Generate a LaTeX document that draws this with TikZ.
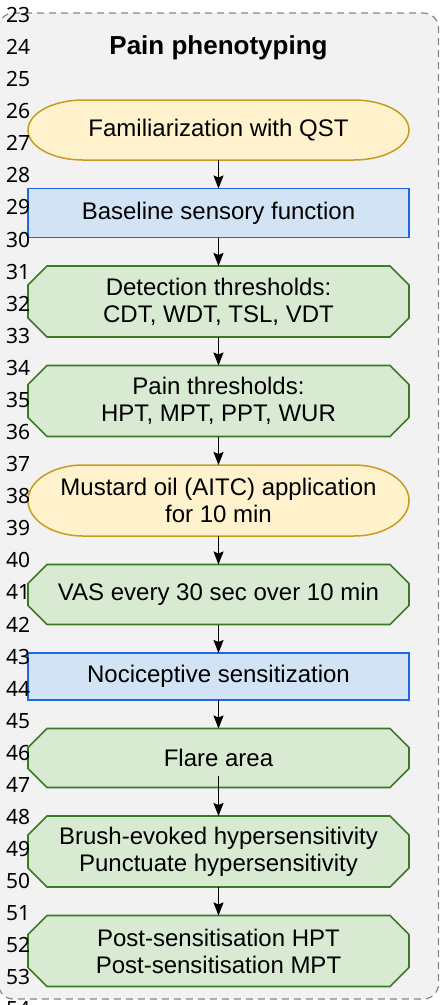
\documentclass[tikz,border=0pt]{standalone}
\usepackage{fontspec}
\setmainfont{Liberation Sans}
\newfontfamily\numfont{Noto Sans}
\usetikzlibrary{positioning,arrows.meta,backgrounds}

\definecolor{panelfill}{HTML}{F2F2F2}
\definecolor{panelline}{HTML}{858585}
\definecolor{yfill}{HTML}{FFF2CC}
\definecolor{yline}{HTML}{C99C1E}
\definecolor{bfill}{HTML}{D2E3F5}
\definecolor{bline}{HTML}{1F66E0}
\definecolor{gfill}{HTML}{D9EAD3}
\definecolor{gline}{HTML}{3B7A22}

\tikzset{
  box/.style={minimum width=381pt, outer sep=0pt, inner sep=0pt, align=center,
    font=\fontsize{24}{27}\selectfont},
  stadium/.style={box},
  chambox/.style={box},
  rectbox/.style={box, draw=bline, fill=bfill, line width=1.5pt},
  arr/.style={line width=1.6pt, -{Stealth[length=13pt,width=10pt,inset=2pt]}},
  panel/.style={rounded corners=15pt, fill=panelfill, draw=panelline,
    line width=1.2pt, dash pattern=on 7pt off 5pt},
  lineno/.style={anchor=west, inner sep=0pt, font=\numfont\fontsize{21}{21}\selectfont}
}

\begin{document}
\begin{tikzpicture}[node distance=28.5pt]
\useasboundingbox (0,0) rectangle (441pt,-1005pt);

\node[font=\bfseries\fontsize{26}{26}\selectfont] (title) at (218.5pt,-48pt) {Pain phenotyping};

% steps, top to bottom
\node[stadium, minimum height=60pt] (fam) at (218.5pt,-130pt) {Familiarization with QST};
\node[rectbox, minimum height=49pt, below=of fam] (base) {Baseline sensory function};
\node[chambox, minimum height=71pt, below=of base] (detect) {Detection thresholds:\\CDT, WDT, TSL, VDT};
\node[chambox, minimum height=71pt, below=of detect] (pain) {Pain thresholds:\\HPT, MPT, PPT, WUR};
\node[stadium, minimum height=71pt, below=of pain] (aitc) {Mustard oil (AITC) application\\for 10 min};
\node[chambox, minimum height=60pt, below=of aitc] (vas) {VAS every 30 sec over 10 min};
\node[rectbox, minimum height=47pt, below=of vas] (noci) {Nociceptive sensitization};
\node[chambox, minimum height=59pt, below=of noci] (flare) {Flare area};
\node[chambox, minimum height=71pt, below=of flare] (brush) {Brush-evoked hypersensitivity\\Punctuate hypersensitivity};
\node[chambox, minimum height=71pt, below=of brush] (post) {Post-sensitisation HPT\\Post-sensitisation MPT};

\foreach \a/\b in {fam/base,base/detect,detect/pain,pain/aitc,aitc/vas,vas/noci,noci/flare,brush/post}
  \draw[arr] (\a.south) -- (\b.north);
\draw[arr] ([yshift=12pt]flare.south) -- (brush.north);

% panel and the step outlines go behind
\begin{scope}[on background layer]
  \filldraw[panel] (-1.5pt,-13pt) rectangle (438.5pt,-999pt);
  \foreach \n/\r in {fam/30pt,aitc/35.5pt}
    \filldraw[fill=yfill, draw=yline, line width=1.5pt]
      ([xshift=55pt]\n.north west) -- ([xshift=-55pt]\n.north east)
      arc[start angle=90, end angle=-90, x radius=55pt, y radius=\r]
      -- ([xshift=55pt]\n.south west)
      arc[start angle=270, end angle=90, x radius=55pt, y radius=\r] -- cycle;
  \foreach \n in {detect,pain,vas,flare,brush,post}
    \filldraw[fill=gfill, draw=gline, line width=1.6pt]
      ([xshift=19pt]\n.north west) -- ([xshift=-19pt]\n.north east)
      -- ([yshift=-19pt]\n.north east) -- ([yshift=19pt]\n.south east)
      -- ([xshift=-19pt]\n.south east) -- ([xshift=19pt]\n.south west)
      -- ([yshift=19pt]\n.south west) -- ([yshift=-19pt]\n.north west) -- cycle;
\end{scope}

% line numbers
\foreach \k [count=\i from 0] in {23,...,54}
  \node[lineno] (n\k) at (6pt,{-15pt-32.08pt*\i}) {\k};
\end{tikzpicture}
\end{document}
